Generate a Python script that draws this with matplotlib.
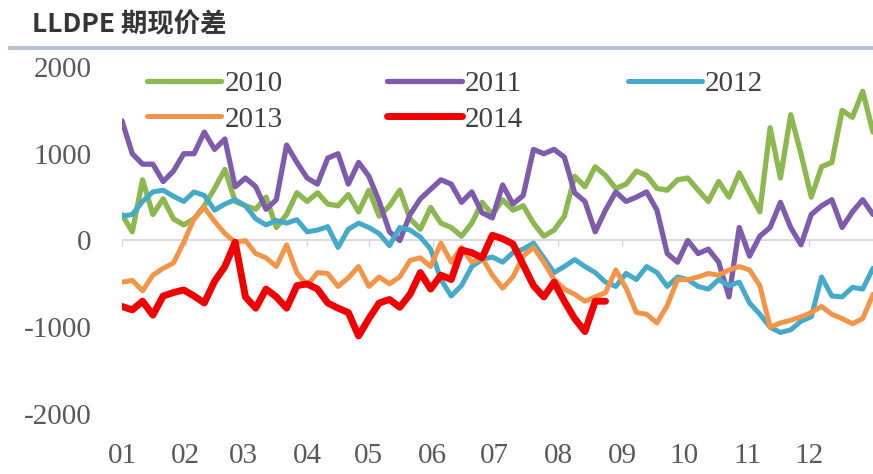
import numpy as np
import matplotlib
matplotlib.use("Agg")
import matplotlib.pyplot as plt
from matplotlib.lines import Line2D

plt.rcParams["font.family"] = ["Liberation Serif", "DejaVu Serif"]
plt.rcParams["axes.unicode_minus"] = False

# LLDPE futures-spot spread by year, sampled every 5 days from Jan 1
days = np.arange(0, 366, 5)

spread_2010 = [300, 100, 700, 300, 480, 250, 180, 250, 400, 600,
               820, 450, 400, 360, 500, 150, 300, 550, 450, 550,
               420, 400, 530, 330, 580, 280, 400, 580, 250, 130,
               380, 200, 150, 50, 200, 440, 300, 470, 350, 400,
               200, 50, 120, 280, 740, 620, 850, 750, 600, 650,
               800, 750, 600, 580, 700, 720, 580, 450, 680, 500,
               780, 550, 330, 1300, 720, 1450, 1000, 500, 850, 900,
               1500, 1420, 1720, 1250]
spread_2011 = [1380, 1000, 880, 880, 680, 800, 1000, 1000, 1250, 1050,
               1170, 620, 720, 620, 360, 470, 1100, 900, 720, 650,
               950, 1000, 650, 900, 740, 450, 100, 0, 300, 480,
               590, 700, 650, 440, 560, 320, 260, 640, 420, 520,
               1050, 1000, 1050, 960, 550, 450, 100, 350, 560, 450,
               500, 560, 350, -150, -250, 0, -150, -100, -250, -650,
               150, -180, 50, 150, 440, 150, -50, 300, 400, 470,
               150, 330, 470, 300]
spread_2012 = [280, 300, 450, 560, 580, 510, 450, 560, 520, 350,
               420, 470, 400, 250, 180, 230, 200, 240, 100, 120,
               160, -80, 130, 200, 150, 80, -60, 150, 120, 40,
               -100, -450, -640, -520, -300, -220, -190, -250, -140, -100,
               -30, -200, -370, -300, -220, -300, -370, -480, -530, -380,
               -450, -300, -370, -530, -420, -450, -530, -560, -450, -520,
               -480, -720, -850, -1000, -1060, -1030, -930, -880, -420, -640,
               -650, -540, -560, -320]
spread_2013 = [-480, -460, -580, -400, -320, -260, -20, 250, 380, 220,
               80, -20, 0, -150, -200, -300, -50, -370, -520, -370,
               -380, -530, -430, -300, -530, -420, -500, -420, -230, -200,
               -300, -30, -250, -80, -250, -200, -400, -550, -420, -180,
               -80, -250, -450, -560, -620, -700, -650, -600, -340, -550,
               -830, -850, -950, -750, -450, -450, -420, -380, -400, -340,
               -300, -340, -520, -1000, -950, -920, -880, -830, -760, -850,
               -900, -960, -900, -620]
spread_2014 = [-760, -800, -700, -860, -640, -600, -570, -640, -720, -470,
               -300, -20, -650, -780, -560, -650, -780, -520, -500, -560,
               -720, -780, -830, -1100, -900, -720, -680, -770, -620, -370,
               -560, -400, -450, -110, -140, -200, 60, 20, -40, -280,
               -520, -650, -480, -700, -900, -1050, -700, -700]

years = ["2010", "2011", "2012", "2013", "2014"]
series = [spread_2010, spread_2011, spread_2012, spread_2013, spread_2014]
colors = ["#8DB850", "#7E5CAB", "#45A9C9", "#F39548", "#F00000"]
widths = [3.8, 3.8, 3.6, 3.6, 5.0]

month_lengths = [31, 28, 31, 30, 31, 30, 31, 31, 30, 31, 30, 31]
month_starts = np.concatenate([[0], np.cumsum(month_lengths)[:-1]])
month_labels = ["%02d" % (m + 1) for m in range(12)]

W, H = 873, 474
fig = plt.figure(figsize=(W / 100, H / 100), dpi=100)
fig.patch.set_facecolor("white")
ax = fig.add_axes([122 / W, 1 - 414 / H, 751 / W, (414 - 67) / H])

ax.axhline(0, color="#cfd6de", lw=1.2, zorder=1)
ax.vlines(month_starts, -60, 0, color="#cfd6de", lw=1.0, zorder=1)

handles = []
for yr, vals, c, lw in zip(years, series, colors, widths):
    h, = ax.plot(days[:len(vals)], vals, color=c, lw=lw, label=yr,
                 solid_joinstyle="round", solid_capstyle="round", zorder=2)
    handles.append(h)

ax.set_xlim(0, 365)
ax.set_ylim(-2000, 2000)
ax.set_yticks([-2000, -1000, 0, 1000, 2000])
ax.set_xticks(month_starts)
ax.set_xticklabels(month_labels)
for s in ax.spines.values():
    s.set_visible(False)
ax.tick_params(axis="y", length=0, pad=22, labelsize=21, labelcolor="#595959")
ax.tick_params(axis="x", length=0, pad=21, labelsize=21, labelcolor="#595959")

order = [0, 3, 1, 4, 2]
leg = fig.legend([handles[i] for i in order], [years[i] for i in order],
                 ncol=3, loc="upper left", bbox_to_anchor=(147 / W, 1 - 71 / H),
                 frameon=False, borderpad=0, borderaxespad=0,
                 handlelength=2.55, handletextpad=0.1, columnspacing=3.6,
                 labelspacing=0.3, prop={"family": "Liberation Serif", "size": 21})
for t in leg.get_texts():
    t.set_color("#404040")

fig.text(32 / W, 1 - 25 / H, "LLDPE 期现价差", ha="left", va="center",
         fontsize=19, fontweight="bold", color="#353535",
         family=["Noto Sans CJK SC", "DejaVu Sans"])
fig.add_artist(Line2D([10 / W, 1], [1 - 48 / H, 1 - 48 / H],
                      transform=fig.transFigure, color="#b7c2d0", lw=3))

fig.savefig("out.png", dpi=100)
